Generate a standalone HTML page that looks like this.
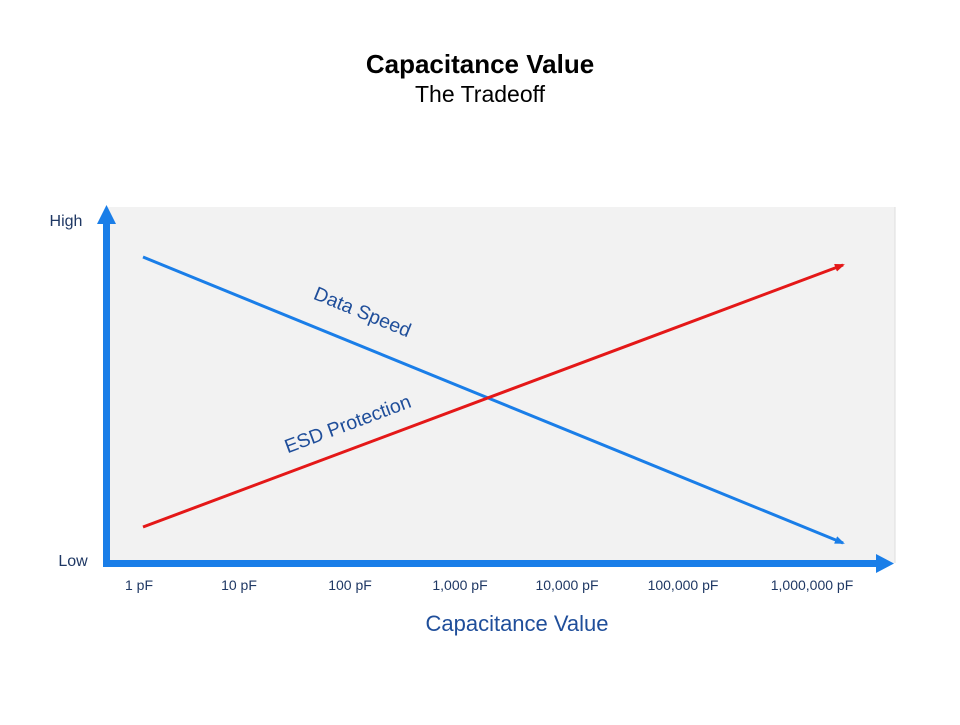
<!DOCTYPE html>
<html><head><meta charset="utf-8"><style>
body{margin:0;background:#fff;width:960px;height:720px;overflow:hidden;font-family:"Liberation Sans",Arial,sans-serif}
</style></head><body>
<svg width="960" height="720" viewBox="0 0 960 720" xmlns="http://www.w3.org/2000/svg" font-family="Liberation Sans, Arial, sans-serif">
<defs>
<marker id="ab" markerWidth="10" markerHeight="8" refX="8" refY="4" orient="auto" markerUnits="userSpaceOnUse"><path d="M0,0 L10,4 L0,8 z" fill="#1a7ee8"/></marker>
<marker id="ar" markerWidth="10" markerHeight="8" refX="8" refY="4" orient="auto" markerUnits="userSpaceOnUse"><path d="M0,0 L10,4 L0,8 z" fill="#e41818"/></marker>
</defs>
<text x="480" y="73" text-anchor="middle" font-size="26" font-weight="bold" fill="#000">Capacitance Value</text>
<text x="480" y="102" text-anchor="middle" font-size="23" fill="#000">The Tradeoff</text>
<rect x="108" y="207" width="787" height="356" fill="#f2f2f2"/>
<line x1="895" y1="207" x2="895" y2="563" stroke="#ddd" stroke-width="1"/>
<line x1="143" y1="257" x2="843" y2="543" stroke="#1a7ee8" stroke-width="3" marker-end="url(#ab)"/>
<line x1="143" y1="527" x2="843" y2="265" stroke="#e41818" stroke-width="3" marker-end="url(#ar)"/>
<rect x="103" y="220" width="7" height="347" fill="#1a7ee8"/>
<path d="M106.5,205 L116,224 L97,224 z" fill="#1a7ee8"/>
<rect x="103" y="560" width="778" height="7" fill="#1a7ee8"/>
<path d="M894,563.5 L876,554 L876,573 z" fill="#1a7ee8"/>
<text x="66" y="226" text-anchor="middle" font-size="16" fill="#1f3864">High</text>
<text x="73" y="566" text-anchor="middle" font-size="16" fill="#1f3864">Low</text>
<g font-size="14" fill="#1f3864" text-anchor="middle">
<text x="139" y="590">1 pF</text><text x="239" y="590">10 pF</text><text x="350" y="590">100 pF</text>
<text x="460" y="590">1,000 pF</text><text x="567" y="590">10,000 pF</text><text x="683" y="590">100,000 pF</text>
<text x="812" y="590">1,000,000 pF</text>
</g>
<text x="517" y="631" text-anchor="middle" font-size="22" fill="#1f4e9a">Capacitance Value</text>
<text transform="translate(360,318) rotate(22.2)" text-anchor="middle" font-size="19.5" fill="#1f4e9a">Data Speed</text>
<text transform="translate(350,430) rotate(-20.5)" text-anchor="middle" font-size="19.5" fill="#1f4e9a">ESD Protection</text>
</svg>
</body></html>
